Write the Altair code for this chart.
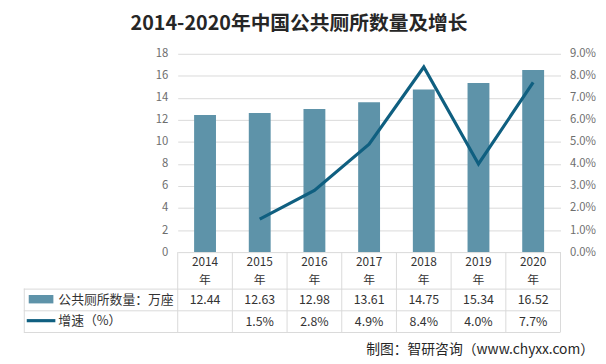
import altair as alt
import pandas as pd

# ---------------- data ----------------
years = ["2014", "2015", "2016", "2017", "2018", "2019", "2020"]
toilets = [12.44, 12.63, 12.98, 13.61, 14.75, 15.34, 16.52]          # 万座
growth = [None, 1.5, 2.8, 4.9, 8.4, 4.0, 7.7]                          # %
left_ticks = [0, 2, 4, 6, 8, 10, 12, 14, 16, 18]
right_ticks = [0, 1, 2, 3, 4, 5, 6, 7, 8, 9]

title_text = "2014-2020年中国公共厕所数量及增长"
year_suffix = "年"
bar_label = "公共厕所数量：万座"
line_label = "增速（%）"
source_text = "制图：智研咨询（www.chyxx.com）"

# ---------------- style / layout ----------------
W, H = 388, 201
STEP = W / len(years)
BAR_COLOR = "#5E93A9"
LINE_COLOR = "#0F5F80"
GRID = "#D9D9D9"
AXIS_TXT = "#6E6E6E"
TXT = "#333333"
FONT = "Noto Sans CJK SC"

ROW_TOP = 201      # top of table (plot bottom)
ROW1 = 238         # header / row1 boundary
ROW2 = 260         # row1 / row2 boundary
ROW3 = 282         # table bottom
LEFT = -156        # table left edge

df = pd.DataFrame({
    "year": years,
    "toilets": toilets,
    "growth": growth,
    "toilets_label": [f"{v:.2f}" for v in toilets],
    "growth_label": ["" if g is None else f"{g:.1f}%" for g in growth],
})
one = pd.DataFrame({"k": [0]})
last = pd.DataFrame({"year": [years[-1]]})

xs = alt.Scale(domain=years, paddingInner=0.6, paddingOuter=0.3)
X = alt.X("year:N", scale=xs, axis=None)

base = alt.Chart(df)

bars = base.mark_bar(color=BAR_COLOR).encode(
    x=X,
    y=alt.Y("toilets:Q", scale=alt.Scale(domain=[0, 18]),
            axis=alt.Axis(values=left_ticks, title=None, orient="left",
                          domain=False, ticks=False, grid=True, gridColor=GRID,
                          labelColor=AXIS_TXT, labelFontSize=11.5, labelFont=FONT,
                          labelPadding=10)),
)

line = base.transform_filter("isValid(datum.growth)").mark_line(
    color=LINE_COLOR, strokeWidth=3.2
).encode(
    x=X,
    y=alt.Y("growth:Q", scale=alt.Scale(domain=[0, 9]),
            axis=alt.Axis(values=right_ticks, title=None, orient="right",
                          labelExpr="format(datum.value, '.1f') + '%'",
                          domain=False, ticks=False, grid=False,
                          labelColor=AXIS_TXT, labelFontSize=11.5, labelFont=FONT,
                          labelPadding=9)),
)

# table grid
vlines = base.mark_rule(color=GRID, xOffset=-STEP / 2).encode(
    x=X, y=alt.value(ROW_TOP), y2=alt.value(ROW3))
vlast = alt.Chart(last).mark_rule(color=GRID, xOffset=STEP / 2).encode(
    x=X, y=alt.value(ROW_TOP), y2=alt.value(ROW3))
hlines = [
    alt.Chart(one).mark_rule(color=GRID).encode(
        x=alt.value(LEFT), x2=alt.value(W), y=alt.value(r))
    for r in (ROW1 + 0.5, ROW2 + 0.5, ROW3 + 0.5)
]
lborder = alt.Chart(one).mark_rule(color=GRID).encode(
    x=alt.value(LEFT + 0.5), y=alt.value(ROW1), y2=alt.value(ROW3))

# table texts
txt_style = dict(font=FONT, fontSize=12.5, color=TXT, baseline="middle")
hdr_style = dict(font=FONT, fontSize=12, color=TXT, baseline="middle")
year_txt = base.mark_text(**hdr_style).encode(
    x=X, y=alt.value(211.5), text="year:N")
year_txt2 = base.mark_text(**hdr_style).encode(
    x=X, y=alt.value(229), text=alt.value(year_suffix))
val_txt = base.mark_text(**txt_style).encode(
    x=X, y=alt.value(249.5), text="toilets_label:N")
gr_txt = base.mark_text(**txt_style).encode(
    x=X, y=alt.value(271.5), text="growth_label:N")

# row legends
sw_bar = alt.Chart(one).mark_rect(color=BAR_COLOR).encode(
    x=alt.value(-151), x2=alt.value(-126), y=alt.value(244.5), y2=alt.value(253))
sw_line = alt.Chart(one).mark_rule(color=LINE_COLOR, strokeWidth=3.2).encode(
    x=alt.value(-153), x2=alt.value(-124), y=alt.value(270.5))
lab_bar = alt.Chart(one).mark_text(font=FONT, fontSize=13, color=TXT, align="left",
                                   baseline="middle").encode(
    x=alt.value(-121), y=alt.value(249.5), text=alt.value(bar_label))
lab_line = alt.Chart(one).mark_text(font=FONT, fontSize=13, color=TXT, align="left",
                                    baseline="middle").encode(
    x=alt.value(-121), y=alt.value(270.5), text=alt.value(line_label))

title = alt.Chart(one).mark_text(font=FONT, fontSize=20, fontWeight="bold",
                                 color="#262626", baseline="middle").encode(
    x=alt.value(123), y=alt.value(-30), text=alt.value(title_text))
source = alt.Chart(one).mark_text(font=FONT, fontSize=14, color="#262626",
                                  align="right", baseline="middle").encode(
    x=alt.value(422), y=alt.value(300), text=alt.value(source_text))

chart = alt.layer(
    bars, line, vlines, vlast, *hlines, lborder,
    year_txt, year_txt2, val_txt, gr_txt, sw_bar, sw_line, lab_bar, lab_line,
    title, source
).resolve_scale(y="independent").properties(
    width=W, height=H,
    autosize=alt.AutoSizeParams(type="none"),
    padding={"left": 172, "top": 44, "right": 38, "bottom": 111},
).configure_view(stroke=None)

chart.save("out.html", embed_options={"renderer": "svg", "actions": False})
